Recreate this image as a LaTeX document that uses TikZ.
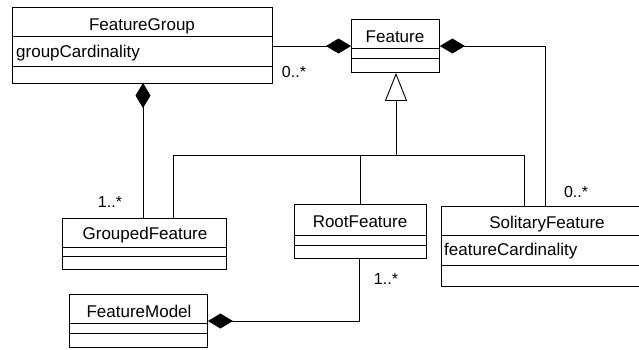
\documentclass[tikz,border=0pt]{standalone}
\usepackage{fontspec}
\setmainfont{Liberation Sans}
\usetikzlibrary{arrows.meta}
\begin{document}
\begin{tikzpicture}[x=1pt,y=-1pt,
  box/.style={draw=black,line width=0.9pt,rectangle,inner sep=0pt,anchor=north west},
  sep/.style={line width=0.9pt},
  conn/.style={line width=0.9pt},
  txt/.style={font=\fontsize{17}{17}\selectfont,inner sep=0pt},
  lbl/.style={font=\fontsize{16}{16}\selectfont,inner sep=0pt},
  comp/.style={{Diamond[length=25pt,width=15pt,fill=black]}-},
  gen/.style={{Triangle[open,length=28pt,width=22pt,fill=white]}-}]
\useasboundingbox (0,0) rectangle (639,349);
% FeatureGroup
\node[box,minimum width=260pt,minimum height=76pt] (FG) at (12,7) {};
\draw[sep] (12,36) -- (272,36);
\draw[sep] (12,66) -- (272,66);
\node[txt,anchor=base] (FGn) at (142,30) {FeatureGroup};
\node[txt,anchor=base west] (FGa) at (16,57) {groupCardinality};
% Feature
\node[box,minimum width=88pt,minimum height=53pt] (F) at (351,19) {};
\draw[sep] (351,48) -- (439,48);
\draw[sep] (351,58) -- (439,58);
\node[txt,anchor=base] (Fn) at (395,42) {Feature};
% GroupedFeature
\node[box,minimum width=164pt,minimum height=51pt] (GF) at (62,218) {};
\draw[sep] (62,247) -- (226,247);
\draw[sep] (62,256) -- (226,256);
\node[txt,anchor=base] (GFn) at (145,239) {GroupedFeature};
% RootFeature
\node[box,minimum width=132pt,minimum height=54pt] (RF) at (294,204) {};
\draw[sep] (294,235) -- (426,235);
\draw[sep] (294,245) -- (426,245);
\node[txt,anchor=base] (RFn) at (360,227) {RootFeature};
% SolitaryFeature
\node[box,minimum width=204pt,minimum height=80pt] (SF) at (441,206) {};
\draw[sep] (441,235) -- (645,235);
\draw[sep] (441,265) -- (645,265);
\node[txt,anchor=base] (SFn) at (547,228) {SolitaryFeature};
\node[txt,anchor=base west] (SFa) at (444,255) {featureCardinality};
% FeatureModel
\node[box,minimum width=138pt,minimum height=53pt] (FM) at (69,294) {};
\draw[sep] (69,323) -- (207,323);
\draw[sep] (69,333) -- (207,333);
\node[txt,anchor=base] (FMn) at (139,317) {FeatureModel};
% coordinates
\coordinate (c1) at (545,46);
\coordinate (h0) at (396,155);
\coordinate (hl) at (173,155);
\coordinate (hm) at (360,155);
\coordinate (hr) at (524,155);
\coordinate (c2) at (359,321);
% connectors
\draw[conn,comp] (F.west |- 0,46) -- (FG.east |- 0,46);
\draw[conn,comp] (F.east |- 0,46) -- (c1) -- (c1 |- SF.north);
\draw[conn,comp] (143,83) -- (143,218);
\draw[conn,gen] (F.south -| h0) -- (h0);
\draw[conn] (hl) -- (hr);
\draw[conn] (hl) -- (hl |- GF.north);
\draw[conn] (hm) -- (hm |- RF.north);
\draw[conn] (hr) -- (hr |- SF.north);
\draw[conn,comp] (FM.east |- c2) -- (c2) -- (c2 |- RF.south);
% labels
\node[lbl] (l1) at (294,72) {0..*};
\node[lbl] (l2) at (110,202) {1..*};
\node[lbl] (l3) at (386,279) {1..*};
\node[lbl] (l4) at (576,192) {0..*};
\end{tikzpicture}
\end{document}
